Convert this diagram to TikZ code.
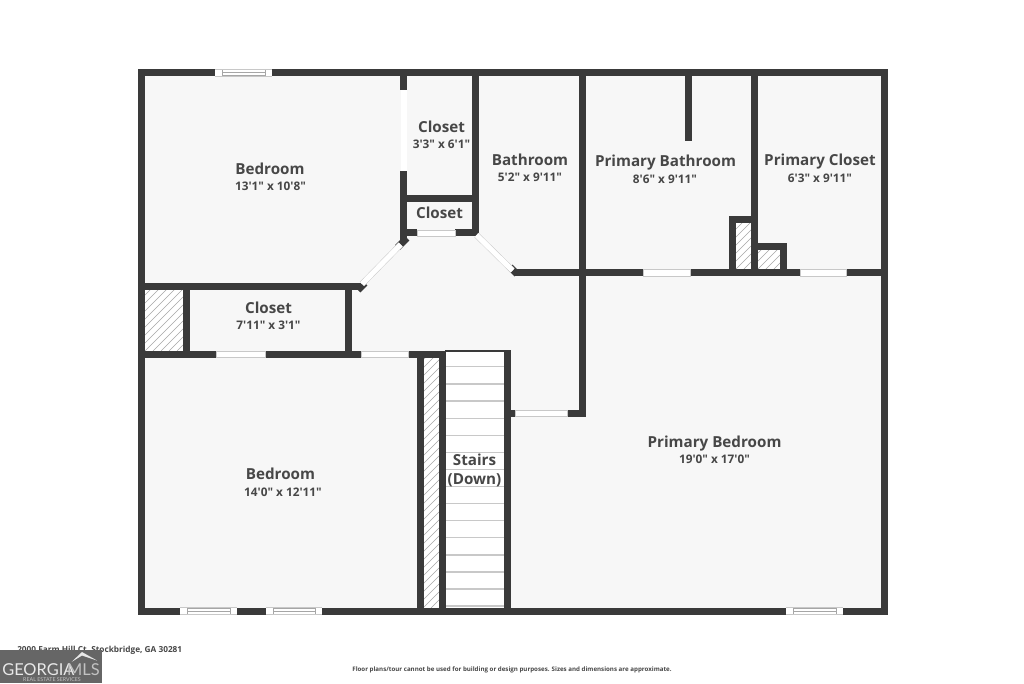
\documentclass[tikz,border=0pt]{standalone}
\usepackage{fontspec}
\newfontfamily\lab{Open Sans}
\newfontfamily\logo{Lato}
\definecolor{wallc}{HTML}{3A3A3A}
\definecolor{floorc}{HTML}{F7F7F7}
\definecolor{textc}{HTML}{474747}
\definecolor{stepc}{HTML}{C8C8C8}
\definecolor{hatchc}{HTML}{A6A6A6}
\definecolor{logoc}{HTML}{666666}
\tikzset{
  wall/.style={draw=wallc,line width=5.25pt,line cap=butt},
  capwall/.style={draw=wallc,line width=5.25pt,line cap=rect},
  doorw/.style={fill=white,draw=stepc,line width=0.4pt},
  dooredge/.style={draw=stepc,line width=4.6pt,line cap=butt},
  doorfill/.style={draw=white,line width=3.9pt,line cap=butt},
  stepline/.style={draw=stepc,line width=0.8pt},
  roomname/.style={font=\lab\bfseries\fontsize{11.4}{13}\selectfont,text=textc,inner sep=0pt,anchor=base,yshift=0.6pt},
  roomsize/.style={font=\lab\bfseries\fontsize{8.85}{11}\selectfont,text=textc,inner sep=0pt,anchor=base,yshift=0.6pt},
}
\newcommand{\hatchbox}[4]{%
  \fill[white] (#1,#2) rectangle (#3,#4);
  \begin{scope}
    \clip (#1,#2) rectangle (#3,#4);
    \foreach \k in {-264,-256,...,64}{
      \draw[hatchc,line width=0.5pt] ({#1+\k},#4) -- ++(300,-300);
    }
  \end{scope}}
\newcommand{\winh}[3]{% x1 x2 yc
  \fill[white] (#1,#3-3.5) rectangle (#2,#3+3.5);
  \draw[hatchc,line width=0.45pt] ({#1+7},#3-3) rectangle ({#2-7},#3+3);
  \draw[hatchc,line width=0.45pt] ({#1+7},#3) -- ({#2-7},#3);
  \draw[stepc,line width=0.3pt] (#1,#3-3.5) -- (#2,#3-3.5) (#1,#3+3.5) -- (#2,#3+3.5);}
\newcommand{\doorh}[3]{% x1 x2 yc
  \draw[doorw] (#1,#3-3.2) rectangle (#2,#3+3.2);}
\begin{document}
\begin{tikzpicture}[x=0.75pt,y=-0.75pt]
\useasboundingbox (0,0) rectangle (1024,683);
\fill[white] (0,0) rectangle (1024,683);
\fill[floorc] (141.5,72.5) rectangle (884,611);
% stairs
\fill[white] (445,352) rectangle (505,608);
\foreach \yy in {366.7,384,401,418.3,435.3,452.3,469.3,486.7,503.3,520.7,537.7,555,572,589,606}{
  \draw[stepline] (445.7,\yy) -- (504.3,\yy);
}
% hatched shafts
\hatchbox{145}{290}{184}{351}
\hatchbox{423}{357}{440}{608}
\hatchbox{735}{222}{752}{270}
\hatchbox{757}{250}{780}{270}
% outer walls
\draw[capwall] (141.5,72.5) -- (884,72.5) -- (884,611) -- (141.5,611) -- cycle;
% upper left
\draw[wall] (403.5,72.5) -- (403.5,90);
\draw[wall] (403.5,171) -- (403.5,240);
\draw[wall] (407,238) -- (397.5,247.5);
\draw[wall] (141.5,286.7) -- (361,286.7);
\draw[wall] (358,290) -- (365,283);
\draw[wall] (475,72.5) -- (475,236);
\draw[wall] (403.5,198.5) -- (475,198.5);
\draw[wall] (403.5,232.7) -- (417.3,232.7);
\draw[wall] (455,232.7) -- (478,232.7);
\draw[wall] (510,267) -- (517,274);
% right block
\draw[wall] (514,272.7) -- (643,272.7);
\draw[wall] (690.7,272.7) -- (800,272.7);
\draw[wall] (846.7,272.7) -- (884,272.7);
\draw[wall] (582.5,72.5) -- (582.5,416.7);
\draw[wall] (585.7,413) -- (567,413);
\draw[wall] (507.7,413) -- (515.7,413);
\draw[wall] (688.5,72.5) -- (688.5,141);
\draw[wall] (754.5,72.5) -- (754.5,272.7);
\draw[capwall] (732,272.7) -- (732,219) -- (754.5,219);
\draw[capwall] (754.5,246.5) -- (783,246.5) -- (783,272.7);
% middle left
\draw[wall] (186.3,286.7) -- (186.3,354);
\draw[wall] (348.3,286.7) -- (348.3,354);
\draw[wall] (141.5,354) -- (216.7,354);
\draw[wall] (265,354) -- (361.7,354);
\draw[wall] (408.7,354) -- (445.7,354);
\draw[wall] (420,351) -- (420,611);
\draw[wall] (442.3,351) -- (442.3,611);
\draw[wall] (507.7,350.7) -- (507.7,611);
\draw[draw=wallc,line width=1.2pt] (445,351.2) -- (511,351.2);
% doors
\draw[dooredge] (400.7,244.5) -- (362,284);
\draw[doorfill] (400.7,244.5) -- (362,284);
\draw[dooredge] (476.5,235) -- (512.5,270.5);
\draw[doorfill] (476.5,235) -- (512.5,270.5);
\draw[doorw,draw=none] (400.6,90) rectangle (406.6,171);
\draw[doorw] (417.3,229.8) rectangle (455,236);
\doorh{643}{690.7}{272.7}
\doorh{800}{846.7}{272.7}
\doorh{216.7}{265}{354}
\doorh{361.7}{408.7}{354}
\doorh{515.7}{567}{413}
% windows
\winh{215}{272}{72.5}
\winh{180}{237}{611}
\winh{266}{322}{611}
\winh{786}{843}{611}
% labels
\node[roomname] (n1) at (270,175) {Bedroom};
\node[roomsize] (s1) at (270.5,191.5) {13'1" x 10'8"};
\node[roomname] (n2) at (441.5,133) {Closet};
\node[roomsize] (s2) at (441.5,149.3) {3'3" x 6'1"};
\node[roomname] (n3) at (439.5,219) {Closet};
\node[roomname] (n4) at (530,166) {Bathroom};
\node[roomsize] (s4) at (530,182.7) {5'2" x 9'11"};
\node[roomname] (n5) at (665.5,167.3) {Primary Bathroom};
\node[roomsize] (s5) at (665,184) {8'6" x 9'11"};
\node[roomname] (n6) at (820,166.5) {Primary Closet};
\node[roomsize] (s6) at (820,183.3) {6'3" x 9'11"};
\node[roomname] (n7) at (268.5,314) {Closet};
\node[roomsize] (s7) at (268.5,330.3) {7'11" x 3'1"};
\node[roomname] (n8) at (280.5,480) {Bedroom};
\node[roomsize] (s8) at (283,497) {14'0" x 12'11"};
\node[roomname] (n9) at (474.5,466) {Stairs};
\node[roomname] (n10) at (474.5,485.3) {(Down)};
\node[roomname] (n11) at (714.5,447.8) {Primary Bedroom};
\node[roomsize] (s11) at (714.5,464) {19'0" x 17'0"};
% footer
\node[font=\lab\bfseries\fontsize{6.2}{7}\selectfont,text=textc,inner sep=0pt,anchor=base west] (addr) at (17,652.7) {2000 Farm Hill Ct, Stockbridge, GA 30281};
\node[font=\lab\bfseries\fontsize{4.63}{6}\selectfont,text=textc,inner sep=0pt] (disc) at (512,670) {Floor plans/tour cannot be used for building or design purposes. Sizes and dimensions are approximate.};
% logo
\fill[logoc] (0,650) rectangle (101.5,683);
\fill[white!85!logoc] (71.5,662) -- (82,652) -- (97,660.5) -- (82,655.5) -- cycle;
\node[font=\logo\fontsize{12.3}{14}\selectfont,text=white!85!logoc,inner sep=0pt,anchor=base west] (geo) at (2,675) {GEORGIA};
\node[font=\logo\fontsize{12.3}{14}\selectfont,text=white!60!logoc,inner sep=0pt,anchor=base east] (mls) at (100,675) {MLS};
\node[font=\logo\fontsize{4}{5}\selectfont,text=white!60!logoc,inner sep=0pt] (res) at (52,680) {REAL ESTATE SERVICES};
\end{tikzpicture}
\end{document}
